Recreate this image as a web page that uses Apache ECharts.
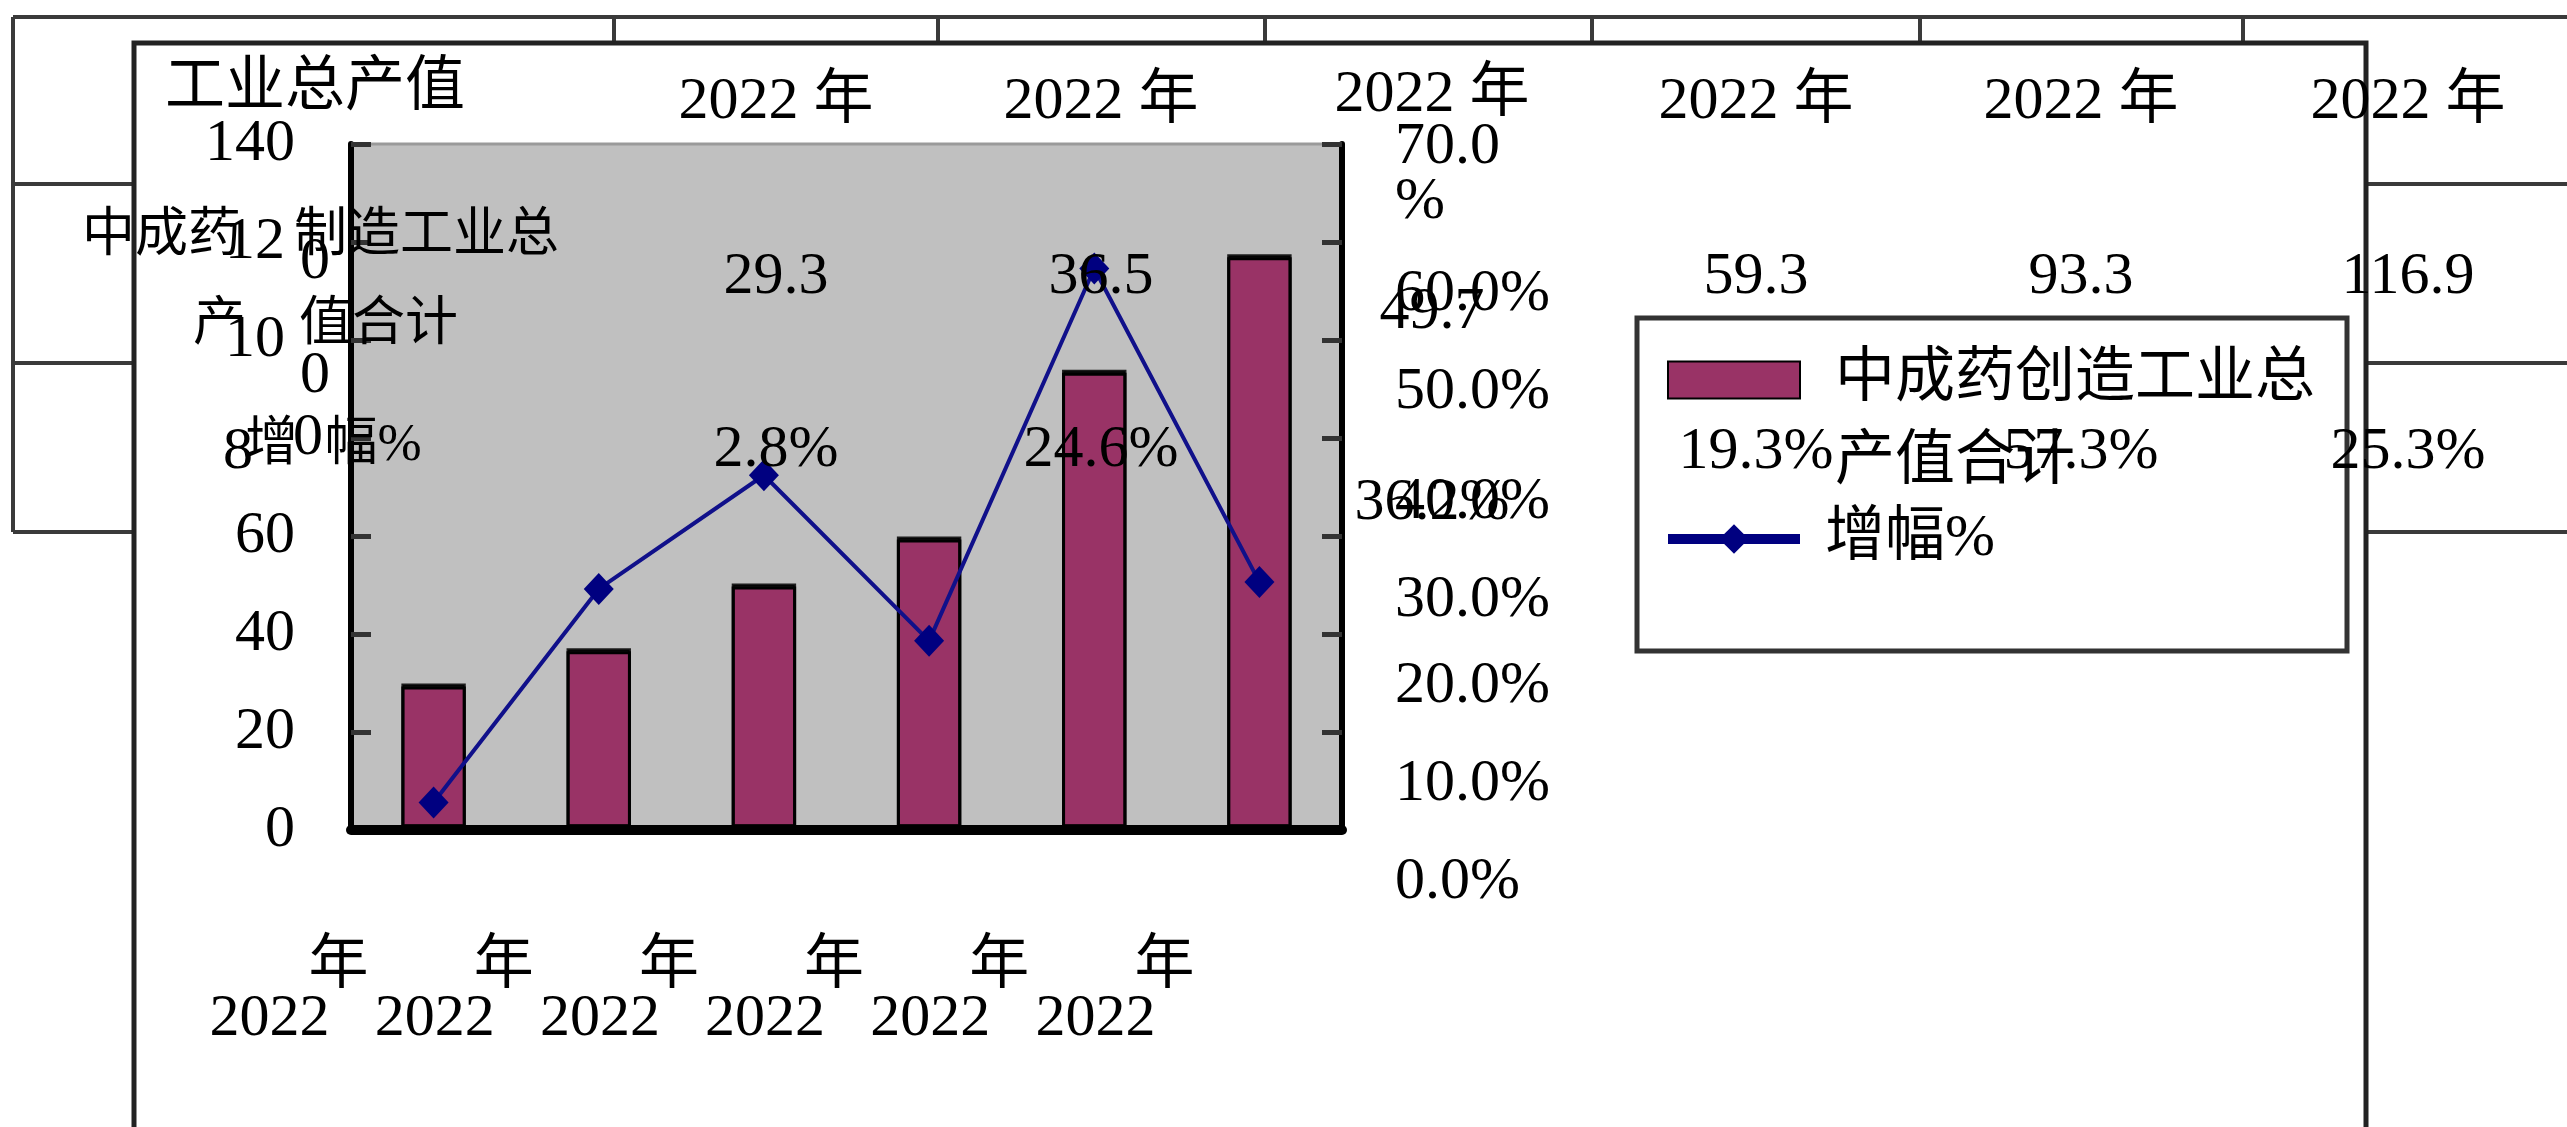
<!DOCTYPE html>
<html>
<head>
<meta charset="utf-8">
<script src="https://cdn.jsdelivr.net/npm/echarts@6/dist/echarts.min.js"></script>
<style>html,body{margin:0;padding:0;background:#fff;}#c{width:2567px;height:1127px;}</style>
</head>
<body>
<div id="c"></div>
<script>
// ---- data ----
const categories = ['2022 年', '2022 年', '2022 年', '2022 年', '2022 年', '2022 年'];
const outputValues = [29.3, 36.5, 49.7, 59.3, 93.3, 116.9];   // 中成药制造工业总产值合计
const growthValues = [2.8, 24.6, 36.2, 19.3, 57.3, 25.3];     // 增幅%
const barName = '中成药创造工业总产值合计';
const lineName = '增幅%';
const tableTitle = '工业总产值';
const rowLabel1 = ['中成药\u3000制造工业总', '产\u3000值合计'];
const rowLabel2 = '增  幅%';

const FF = "'Liberation Serif', 'Noto Sans CJK SC', serif";
const chart = echarts.init(document.getElementById('c'));

// table layout (positions only)
const colCenters = [776, 1101, 1432, 1756, 2081, 2408];
const headY = [102, 102, 95, 102, 102, 102];
const row2Y = [277, 277, 312, 277, 277, 277];
const row3Y = [450, 450, 503, 452, 452, 452];

function txt(t, x, y, size, align, z) {
  return {
    type: 'text', x: x, y: y, z: z || 100,
    style: {
      text: t, x: 0, y: 0, fill: '#000',
      font: size + 'px ' + FF,
      align: align || 'center', verticalAlign: 'middle',
      textAlign: align || 'center', textVerticalAlign: 'middle'
    }
  };
}
function ln(x1, y1, x2, y2, z) {
  return { type: 'line', z: z, shape: { x1, y1, x2, y2 }, style: { stroke: '#3a3a3a', lineWidth: 4 } };
}

const g = [];
// table lines (behind)
g.push(ln(13, 17, 2567, 17, -20));
g.push(ln(13, 17, 13, 532, -20));
[184, 363, 532].forEach(y => g.push(ln(13, y, 2567, y, -20)));
[614, 938, 1265, 1592, 1920, 2243].forEach(x => g.push(ln(x, 17, x, 532, -20)));
// chart box
g.push({ type: 'rect', z: -10, shape: { x: 134, y: 43, width: 2232, height: 1300 },
  style: { fill: '#fff', stroke: '#222', lineWidth: 5 } });
// legend box
g.push({ type: 'rect', z: -5, shape: { x: 1637, y: 318, width: 710, height: 333 },
  style: { fill: '#fff', stroke: '#333', lineWidth: 5 } });
// table texts (on top)
g.push(txt(tableTitle, 315, 89, 60));
g.push(txt(rowLabel1[0], 82, 237, 53, 'left'));
g.push(txt(rowLabel1[1], 193, 326, 53, 'left'));
g.push(txt(rowLabel2, 245, 446, 53, 'left'));
categories.forEach((c, i) => {
  g.push(txt(c, colCenters[i], headY[i], 60));
  g.push(txt(outputValues[i].toFixed(1), colCenters[i], row2Y[i], 60));
  g.push(txt(growthValues[i].toFixed(1) + '%', colCenters[i], row3Y[i], 60));
});

const option = {
  animation: false,
  textStyle: { fontFamily: FF, color: '#000' },
  graphic: { elements: g },
  grid: {
    left: 351, right: 2567 - 1342, top: 144, bottom: 1127 - 830,
    show: true, backgroundColor: '#c0c0c0', borderColor: '#9a9a9a', borderWidth: 3
  },
  legend: {
    orient: 'vertical', left: 1663, top: 287, padding: 0,
    itemWidth: 132, itemHeight: 37, itemGap: 16,
    data: [
      { name: barName, icon: 'rect' },
      { name: lineName, lineStyle: { width: 10, color: '#000080' } }
    ],
    formatter: function (name) {
      if (name === barName) {
        return '{p| }\n{a|' + name.slice(0, 8) + '}\n{a|' + name.slice(8) + '}';
      }
      return '{b|' + name + '}';
    },
    textStyle: {
      rich: {
        p: { fontSize: 20, lineHeight: 83 },
        a: { fontSize: 60, lineHeight: 83, fontFamily: FF, color: '#000', padding: [0, 0, 0, 30] },
        b: { fontSize: 60, lineHeight: 83, fontFamily: FF, color: '#000', padding: [0, 0, 0, 20] }
      }
    }
  },
  xAxis: {
    type: 'category', data: categories, z: 3,
    axisLine: { lineStyle: { color: '#000', width: 10 } },
    axisTick: { inside: true, length: 17, lineStyle: { color: '#000', width: 5 } },
    axisLabel: {
      interval: 0, margin: 111, align: 'right', padding: [0, 65, 0, 0],
      formatter: function (v) {
        const p = v.split(' ');
        return '{n|' + p[1] + '}\n{y|' + p[0] + '}';
      },
      rich: {
        n: { fontSize: 60, lineHeight: 52, fontFamily: FF, color: '#000' },
        y: { fontSize: 60, lineHeight: 52, fontFamily: FF, color: '#000', padding: [0, 39, 0, 0] }
      }
    }
  },
  yAxis: [
    {
      type: 'value', min: 0, max: 140, interval: 20, position: 'left',
      splitLine: { show: false },
      axisLine: { show: true, lineStyle: { color: '#000', width: 6 } },
      axisTick: { show: true, inside: true, length: 20, lineStyle: { color: '#333', width: 5 } },
      axisLabel: {
        margin: 21,
        formatter: function (v) {
          if (v === 120) return '{a|12}{g|0}';
          if (v === 100) return '{a|10}{h|0}';
          if (v === 80) return '{e|8}{k|0}';
          return '{a|' + v + '}{t| }';
        },
        rich: {
          a: { fontSize: 60, fontFamily: FF, color: '#000' },
          t: { fontSize: 60, width: 35 },
          g: { fontSize: 60, fontFamily: FF, color: '#000', padding: [40, 0, 0, 15] },
          h: { fontSize: 60, fontFamily: FF, color: '#000', padding: [72, 0, 0, 15] },
          e: { fontSize: 60, fontFamily: FF, color: '#000', padding: [28, 0, 0, 0] },
          k: { fontSize: 60, fontFamily: FF, color: '#000', padding: [0, 7, 0, 40] }
        }
      }
    },
    {
      type: 'value', min: 0, max: 70, interval: 10, position: 'right',
      splitLine: { show: false },
      axisLine: { show: true, lineStyle: { color: '#000', width: 6 } },
      axisTick: { show: true, inside: true, length: 20, lineStyle: { color: '#333', width: 5 } },
      axisLabel: {
        margin: 53,
        formatter: function (v) {
          if (v === 70) return '{z|70.0}\n{w|%}';
          if (v === 40 || v === 30) return '{s2|' + v.toFixed(1) + '%}';
          return '{s|' + v.toFixed(1) + '%}';
        },
        rich: {
          s: { fontSize: 60, fontFamily: FF, color: '#000', padding: [104, 0, 0, 0] },
          s2: { fontSize: 60, fontFamily: FF, color: '#000', padding: [128, 0, 0, 0] },
          z: { fontSize: 60, lineHeight: 52, fontFamily: FF, color: '#000', padding: [58, 0, 0, 0] },
          w: { fontSize: 60, lineHeight: 52, fontFamily: FF, color: '#000', padding: [64, 0, 0, 0] }
        }
      }
    }
  ],
  series: [
    {
      name: barName, type: 'bar', yAxisIndex: 0, data: outputValues, barWidth: '39%',
      itemStyle: {
        color: '#993366', borderColor: '#000', borderWidth: 3,
        shadowColor: 'rgba(0,0,0,0.85)', shadowOffsetY: -3, shadowBlur: 0
      }
    },
    {
      name: lineName, type: 'line', yAxisIndex: 1, data: growthValues,
      symbol: 'diamond', symbolSize: [30, 32],
      lineStyle: { color: '#10108a', width: 4 },
      itemStyle: { color: '#000080' }
    }
  ]
};
chart.setOption(option);
</script>
</body>
</html>
